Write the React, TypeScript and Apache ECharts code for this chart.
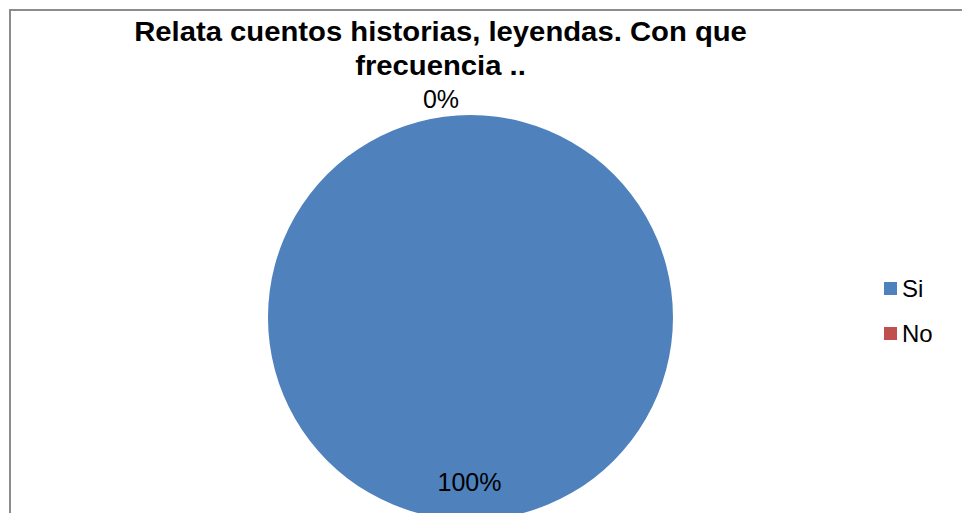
import React, { useEffect, useRef } from "react";
import * as echarts from "echarts";

const categories = ["Si", "No"];
const values = [100, 0];
const percentLabels = ["100%", "0%"];
const colors = ["#4F81BD", "#C0504D"];
const titleLines = ["Relata cuentos historias, leyendas. Con que", "frecuencia .."];

const FONT = '"Liberation Sans", Arial, sans-serif';

export default function App() {
  const ref = useRef<HTMLDivElement>(null);
  useEffect(() => {
    if (!ref.current) return;
    const chart = echarts.init(ref.current, null, { renderer: "svg" });
    const labelPos: Record<number, { x: number; y: number }> = {
      0: { x: 469.5, y: 482 },
      1: { x: 441, y: 99 },
    };
    chart.setOption({
      animation: false,
      backgroundColor: "#ffffff",
      graphic: [
        {
          type: "rect",
          shape: { x: 10, y: 10, width: 1000, height: 600 },
          style: { fill: "none", stroke: "#8c8c8c", lineWidth: 2 },
          silent: true,
        },
        {
          type: "text",
          x: 440.5,
          y: 14,
          scaleX: 1.045,
          style: {
            text: titleLines.join("\n"),
            font: `bold 28px ${FONT}`,
            fill: "#000000",
            align: "center",
            verticalAlign: "top",
            lineHeight: 34,
          },
        },
      ],
      legend: {
        orient: "vertical",
        left: 884,
        top: 276.5,
        padding: 0,
        itemWidth: 13,
        itemHeight: 13,
        itemGap: 21,
        icon: "rect",
        data: categories,
        textStyle: { fontFamily: FONT, fontSize: 24, color: "#000", lineHeight: 24 },
      },
      series: [
        {
          type: "pie",
          center: [470.5, 317.5],
          radius: 202.5,
          startAngle: 90,
          clockwise: true,
          itemStyle: { borderWidth: 0 },
          labelLine: { show: false },
          label: {
            show: true,
            position: "outside",
            fontFamily: FONT,
            fontSize: 25,
            color: "#000",
            formatter: (p: any) => percentLabels[p.dataIndex],
          },
          labelLayout: (p: any) => ({
            x: labelPos[p.dataIndex].x,
            y: labelPos[p.dataIndex].y,
            align: "center",
            verticalAlign: "middle",
          }),
          emphasis: { disabled: true },
          data: categories.map((c, i) => ({
            name: c,
            value: values[i],
            itemStyle: { color: colors[i] },
          })),
        },
      ],
    });
    return () => chart.dispose();
  }, []);
  return (
    <div
      ref={ref}
      style={{ position: "fixed", left: 0, top: 0, width: 962, height: 513 }}
    />
  );
}
